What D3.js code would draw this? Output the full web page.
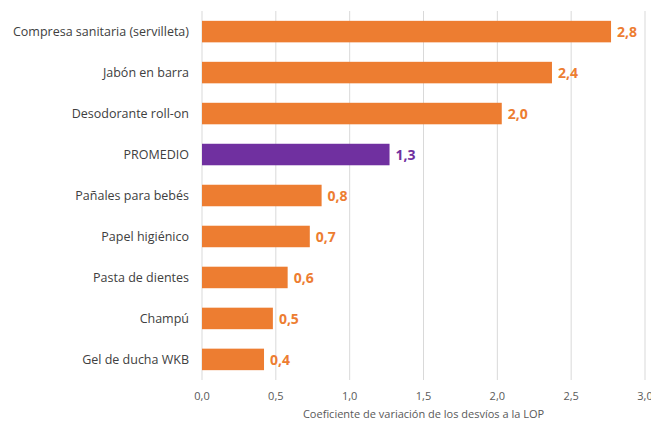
<!DOCTYPE html>
<html>
<head>
    <meta charset="utf-8">
    <script src="https://d3js.org/d3.v7.min.js"></script>
    <style>
        body { margin: 0; background: white; }
        text { font-family: "Open Sans", "Noto Sans", sans-serif; }
    </style>
</head>
<body>
<svg id="chart" width="651" height="424"></svg>
<script>
    // categories top to bottom
    const categories = ["Compresa sanitaria (servilleta)", "Jabón en barra", "Desodorante roll-on",
        "PROMEDIO", "Pañales para bebés", "Papel higiénico", "Pasta de dientes", "Champú", "Gel de ducha WKB"];
    const values = [2.77, 2.37, 2.03, 1.27, 0.81, 0.73, 0.58, 0.48, 0.42];
    const xTicks = [0, 0.5, 1, 1.5, 2, 2.5, 3];
    const xTitle = "Coeficiente de variación de los desvíos a la LOP";

    const orange = "#ED7D31", purple = "#7030A0";
    const fmt = v => d3.format(".1f")(v).replace(".", ",");

    const svg = d3.select("#chart");
    const x = d3.scaleLinear().domain([0, 3]).range([202, 645]);
    const y = d3.scaleBand().domain(categories).range([11, 380]).paddingInner(0.475).paddingOuter(0.24);

    // gridlines
    svg.append("g").selectAll("line")
        .data(xTicks)
        .join("line")
        .attr("x1", d => x(d)).attr("x2", d => x(d))
        .attr("y1", 11).attr("y2", 380)
        .attr("stroke", "#d9d9d9")
        .attr("stroke-width", 1);

    // tick labels
    svg.append("g").selectAll("text")
        .data(xTicks)
        .join("text")
        .attr("x", d => x(d))
        .attr("y", 400)
        .attr("text-anchor", "middle")
        .attr("font-size", 11)
        .attr("fill", "#595959")
        .text(d => fmt(d));

    svg.append("text")
        .attr("x", x(1.5))
        .attr("y", 418)
        .attr("text-anchor", "middle")
        .attr("font-size", 11)
        .attr("fill", "#595959")
        .text(xTitle);

    const rows = categories.map((c, i) => ({ cat: c, val: values[i] }));

    svg.append("g").selectAll("rect")
        .data(rows)
        .join("rect")
        .attr("x", x(0))
        .attr("y", d => y(d.cat))
        .attr("width", d => x(d.val) - x(0))
        .attr("height", y.bandwidth())
        .attr("fill", d => d.cat === "PROMEDIO" ? purple : orange);

    // category labels
    svg.append("g").selectAll("text")
        .data(rows)
        .join("text")
        .attr("x", 189)
        .attr("y", d => y(d.cat) + y.bandwidth() / 2)
        .attr("dy", "0.35em")
        .attr("text-anchor", "end")
        .attr("font-size", 12.5)
        .attr("fill", "#404040")
        .text(d => d.cat);

    // value labels
    svg.append("g").selectAll("text")
        .data(rows)
        .join("text")
        .attr("x", d => x(d.val) + 6)
        .attr("y", d => y(d.cat) + y.bandwidth() / 2)
        .attr("dy", "0.37em")
        .attr("font-size", 14)
        .attr("font-weight", "bold")
        .attr("fill", d => d.cat === "PROMEDIO" ? purple : orange)
        .text(d => fmt(d.val));
</script>
</body>
</html>
